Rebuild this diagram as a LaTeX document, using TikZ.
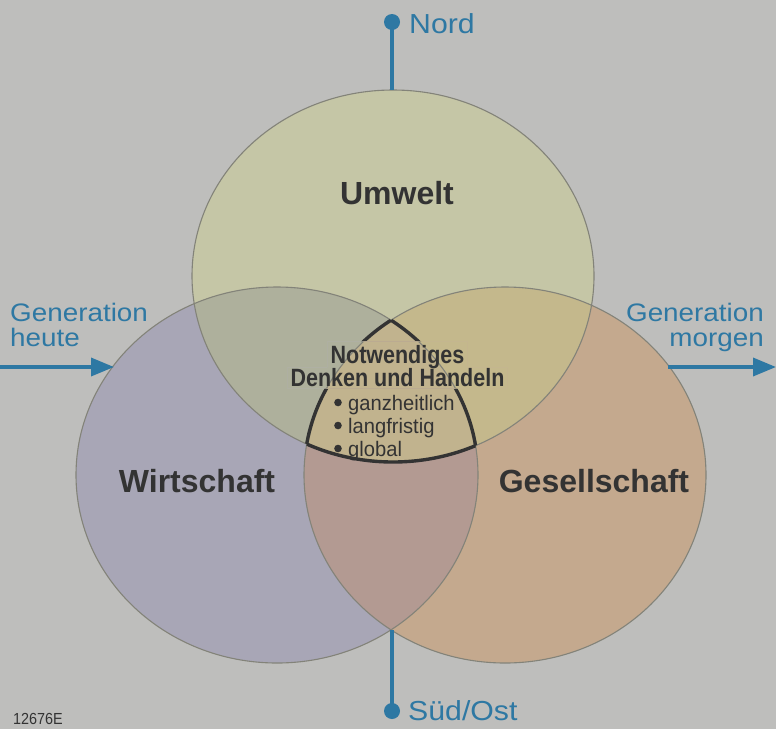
\documentclass[tikz,border=0pt]{standalone}
\usepackage{fontspec}
\setmainfont{Liberation Sans}
\newfontfamily\condbold[FakeStretch=0.86]{Liberation Sans Bold}
\newfontfamily\condreg[FakeStretch=0.96]{Liberation Sans}
\newfontfamily\widereg[FakeStretch=1.1]{Liberation Sans}
\newfontfamily\codefont[FakeStretch=0.9]{Liberation Sans}
\usetikzlibrary{arrows.meta}
\pgfdeclarelayer{bglayer}
\pgfdeclarelayer{midlayer}
\pgfsetlayers{bglayer,midlayer,main}
\definecolor{bg}{HTML}{BEBEBC}
\definecolor{cT}{HTML}{C5C6A6}
\definecolor{cL}{HTML}{A8A6B6}
\definecolor{cR}{HTML}{C4A98E}
\definecolor{cTL}{HTML}{AEB09C}
\definecolor{cTR}{HTML}{C4B88C}
\definecolor{cLR}{HTML}{B39A92}
\definecolor{cC}{HTML}{C1B38E}
\definecolor{edgec}{HTML}{838379}
\definecolor{blueline}{HTML}{2E78A3}
\definecolor{darktext}{HTML}{333333}
\tikzset{
  edge/.style={draw=edgec, line width=1.1pt},
  core/.style={draw=darktext, line width=3.4pt},
  lab/.style={text=blueline, font=\fontsize{25.3}{28}\widereg, inner sep=0pt},
  labbig/.style={text=blueline, font=\fontsize{27.5}{30}\widereg, inner sep=0pt},
  big/.style={text=darktext, font=\fontsize{32}{36}\selectfont\bfseries, inner sep=0pt},
  midb/.style={text=darktext, font=\fontsize{25}{27}\condbold, inner sep=0pt},
  midr/.style={text=darktext, font=\fontsize{21}{24}\condreg, inner sep=0pt},
  bulletdot/.style={fill=darktext},
  blueln/.style={draw=blueline, line width=3.5pt},
  bluearrow/.style={blueln, -{Triangle[length=23pt, width=18pt]}},
}
\def\topE{(393,276) ellipse [x radius=201, y radius=186]}
\def\leftE{(277,475) ellipse [x radius=201, y radius=188]}
\def\rightE{(505,475) ellipse [x radius=201, y radius=188]}
\newcommand\vennfills{%
  \fill[cT] \topE;
  \fill[cL] \leftE;
  \fill[cR] \rightE;
  \begin{scope}\clip \topE; \fill[cTL] \leftE; \end{scope}
  \begin{scope}\clip \topE; \fill[cTR] \rightE; \end{scope}
  \begin{scope}\clip \leftE; \fill[cLR] \rightE; \end{scope}
  \begin{scope}\clip \topE; \clip \leftE; \fill[cC] \rightE; \end{scope}
  \draw[edge] \topE;
  \draw[edge] \leftE;
  \draw[edge] \rightE;
}
\begin{document}
\begin{tikzpicture}[x=1pt,y=-1pt]
\useasboundingbox (0,0) rectangle (776,729);
% central text (main layer)
\node[midb, anchor=base] (notw) at (397.5,363) {Notwendiges};
\node[midb, anchor=base] (denken) at (397.5,386) {Denken und Handeln};
\node[midr, anchor=base west] (b1) at (348,410) {ganzheitlich};
\node[midr, anchor=base west] (b2) at (348,433) {langfristig};
\node[midr, anchor=base west] (b3) at (348,456) {global};
\fill[bulletdot] (338,402.5) circle[radius=3.8pt];
\fill[bulletdot] (338,425.5) circle[radius=3.8pt];
\fill[bulletdot] (338,448.5) circle[radius=3.8pt];
% background, circles and central outline
\begin{pgfonlayer}{bglayer}
\fill[bg] (0,0) rectangle (776,729);
\vennfills
\begin{scope}\clip \topE; \clip \leftE; \draw[core] \rightE; \end{scope}
\begin{scope}\clip \topE; \clip \rightE; \draw[core] \leftE; \end{scope}
\begin{scope}\clip \leftE; \clip \rightE; \draw[core] \topE; \end{scope}
\end{pgfonlayer}
% knock the outline out behind the heading
\begin{pgfonlayer}{midlayer}
\begin{scope}
\clip ([xshift=-3pt,yshift=3pt]notw.north west) rectangle ([xshift=3pt]notw.south east)
      ([xshift=-3pt]denken.north west) rectangle ([xshift=3pt,yshift=-2pt]denken.south east);
\vennfills
\end{scope}
\end{pgfonlayer}
% north / south connectors
\coordinate (ndot) at (392,22);
\coordinate (ntop) at (392,90);
\coordinate (sbot) at (392,630);
\coordinate (sdot) at (392,711);
\draw[blueln] (ndot) -- (ntop);
\draw[blueln] (sbot) -- (sdot);
\fill[blueline] (ndot) circle[radius=8pt];
\fill[blueline] (sdot) circle[radius=8pt];
\node[labbig, anchor=base west] (nord) at (409,33) {Nord};
\node[labbig, anchor=base west] (sued) at (408,720) {Süd/Ost};
% generation arrows
\coordinate (lstart) at (0,367);
\coordinate (lend) at (114,367);
\coordinate (rstart) at (668,367);
\coordinate (rend) at (776,367);
\draw[bluearrow] (lstart) -- (lend);
\draw[bluearrow] (rstart) -- (rend);
\node[lab, anchor=base west] (heute1) at (10,321) {Generation};
\node[lab, anchor=base west] (heute2) at (10,346) {heute};
\node[lab, anchor=base east] (morgen1) at (764,321) {Generation};
\node[lab, anchor=base east] (morgen2) at (764,346) {morgen};
% circle labels
\node[big, anchor=base] (umwelt) at (397,204) {Umwelt};
\node[big, anchor=base] (wirtschaft) at (197,492) {Wirtschaft};
\node[big, anchor=base] (gesellschaft) at (594,492) {Gesellschaft};
% code
\node[text=darktext, font=\fontsize{16}{18}\codefont, inner sep=0pt, anchor=base west] (code) at (13,724) {12676E};
\end{tikzpicture}
\end{document}
